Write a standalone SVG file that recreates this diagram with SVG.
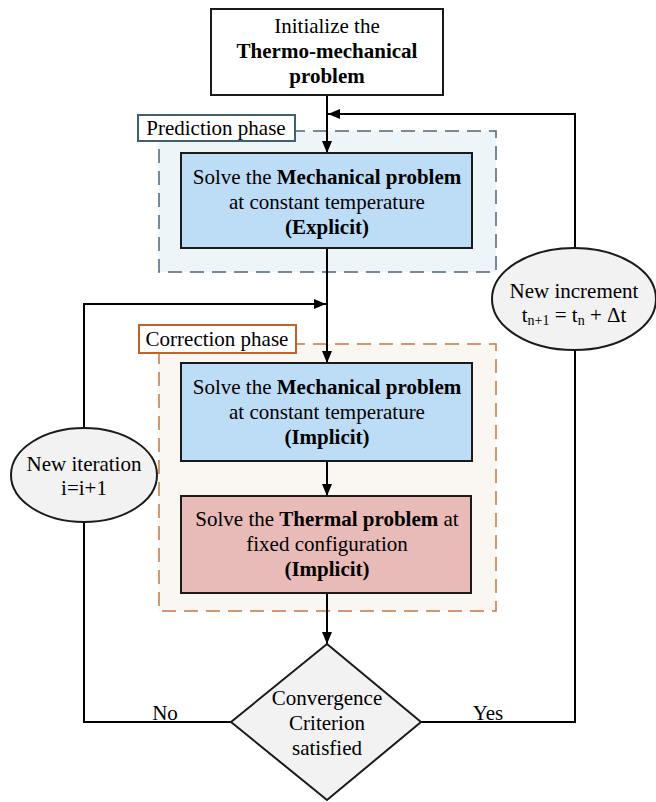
<svg xmlns="http://www.w3.org/2000/svg" width="656" height="802" viewBox="0 0 656 802">
<style>
text{font-family:"Liberation Serif","Times New Roman",serif;font-size:21px;fill:#000;text-anchor:middle}
.b{font-weight:bold}
.box{stroke:#1a1a1a;stroke-width:2}
.ln{fill:none;stroke:#000;stroke-width:2}
.sub{font-size:14px}
</style>
<defs>
<marker id="ah" viewBox="0 0 12 10" refX="12" refY="5" markerWidth="12" markerHeight="10" markerUnits="userSpaceOnUse" orient="auto">
<path d="M0,0 L12,5 L0,10 Z" fill="#000"/>
</marker>
</defs>
<g id="prediction-phase">
<rect x="159" y="131" width="337" height="141" fill="#EEF5F8" stroke="#4A677C" stroke-width="1.5" stroke-dasharray="14,8"/>
<rect x="138" y="115" width="157" height="26" fill="#fff" stroke="#3F6075" stroke-width="2"/>
<text x="216" y="135">Prediction phase</text>
</g>
<g id="correction-phase">
<rect x="159" y="344" width="337" height="267" fill="#FAF7F2" stroke="#C8773F" stroke-width="1.5" stroke-dasharray="14,8"/>
<rect x="139" y="325" width="157" height="28" fill="#fff" stroke="#C0632A" stroke-width="2"/>
<text x="217" y="346">Correction phase</text>
</g>
<g id="connectors">
<line class="ln" x1="327" y1="96" x2="327" y2="153" marker-end="url(#ah)"/>
<polyline class="ln" points="575,248 575,114 328,114" marker-end="url(#ah)"/>
<line class="ln" x1="327" y1="249" x2="327" y2="363" marker-end="url(#ah)"/>
<polyline class="ln" points="84,428 84,304 326,304" marker-end="url(#ah)"/>
<line class="ln" x1="327" y1="461" x2="327" y2="496" marker-end="url(#ah)"/>
<line class="ln" x1="327" y1="593" x2="327" y2="644" marker-end="url(#ah)"/>
<polyline class="ln" points="231,722 84,722 84,522"/>
<polyline class="ln" points="421,722 575,722 575,350"/>
<text x="165" y="720">No</text>
<text x="488" y="720">Yes</text>
</g>
<g id="init">
<rect class="box" x="211" y="9" width="232" height="86" fill="#fff"/>
<text x="327" y="33">Initialize the</text>
<text x="327" y="58" class="b">Thermo-mechanical</text>
<text x="327" y="83" class="b">problem</text>
</g>
<g id="mech-explicit">
<rect class="box" x="181" y="153" width="291" height="95" fill="#BDDCF6"/>
<text x="327" y="184">Solve the <tspan class="b">Mechanical problem</tspan></text>
<text x="327" y="209">at constant temperature</text>
<text x="327" y="234" class="b">(Explicit)</text>
</g>
<g id="mech-implicit">
<rect class="box" x="181" y="363" width="291" height="98" fill="#BDDCF6"/>
<text x="327" y="394">Solve the <tspan class="b">Mechanical problem</tspan></text>
<text x="327" y="419">at constant temperature</text>
<text x="327" y="444" class="b">(Implicit)</text>
</g>
<g id="thermal-implicit">
<rect class="box" x="181" y="496" width="290" height="97" fill="#E8BAB8"/>
<text x="327" y="526">Solve the <tspan class="b">Thermal problem</tspan> at</text>
<text x="327" y="551">fixed configuration</text>
<text x="327" y="576" class="b">(Implicit)</text>
</g>
<g id="new-iteration">
<ellipse class="box" cx="84" cy="475" rx="73" ry="47" fill="#F2F2F2"/>
<text x="84" y="471">New iteration</text>
<text x="84" y="495">i=i+1</text>
</g>
<g id="new-increment">
<ellipse class="box" cx="574" cy="299" rx="82" ry="51" fill="#F2F2F2"/>
<text x="574" y="298">New increment</text>
<text x="574" y="322">t<tspan class="sub" dy="3">n+1</tspan><tspan dy="-3"> = t</tspan><tspan class="sub" dy="3">n</tspan><tspan dy="-3"> + Δt</tspan></text>
</g>
<g id="convergence">
<polygon class="box" points="327,644 421,722 327,800 231,722" fill="#F2F2F2"/>
<text x="327" y="705">Convergence</text>
<text x="327" y="730">Criterion</text>
<text x="327" y="755">satisfied</text>
</g>
</svg>
